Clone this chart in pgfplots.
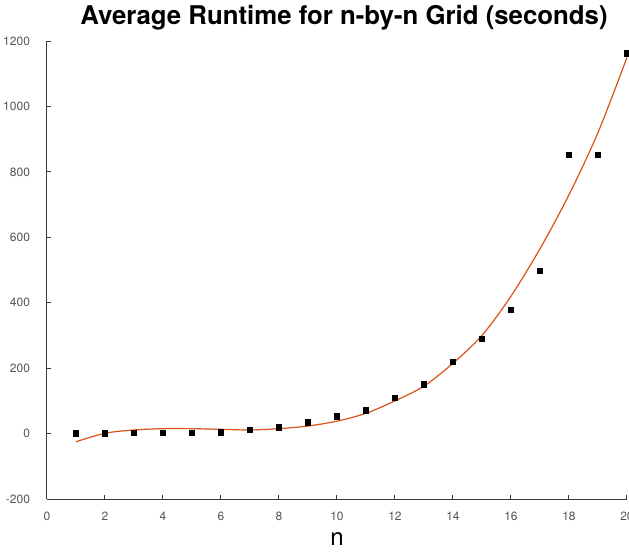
\documentclass[border=0pt]{standalone}
\usepackage{fontspec}
\setmainfont{TeX Gyre Heros}
\usepackage{pgfplots}
\pgfplotsset{compat=1.18}
\definecolor{fitred}{rgb}{0.85,0.325,0.098}
\definecolor{axgray}{HTML}{3A3A3A}
\definecolor{lblgray}{HTML}{555555}

\begin{document}
\begin{tikzpicture}
\begin{axis}[
    at={(0,0)}, anchor=south west,
    width=290pt, height=229pt, scale only axis,
    xmin=0, xmax=20, ymin=-200, ymax=1200,
    xtick={0,2,...,20}, ytick={-200,0,...,1200},
    axis lines=left, axis line style={-, axgray, line width=0.5pt},
    tick align=inside, major tick length=2pt,
    tick style={axgray, line width=0.5pt},
    /pgf/number format/assume math mode=true,
    /pgf/number format/1000 sep={},
    tick label style={font=\fontsize{6}{7}\selectfont, lblgray},
    xticklabel style={yshift=-3pt},
    yticklabel style={xshift=-5pt},
    xlabel={n}, xlabel style={font=\fontsize{12}{14}\selectfont, yshift=1pt},
    title={\bfseries Average Runtime for n-by-n Grid (seconds)},
    title style={font=\fontsize{12.9}{15}\selectfont, yshift=-4pt, xshift=3.5pt},
    clip=false,
]
% fitted curve
\addplot[color=fitred, line width=0.6pt, smooth] coordinates {
(1,-25)(2,1)(3,11)(4,15)(5,15)(6,13)(7,11)(8,15)(9,23)(10,38)
(11,62)(12,100)(13,145)(14,215)(15,300)(16,420)(17,565)(18,730)(19,920)(20,1150)};
% measured averages
\addplot[only marks, mark=square*, mark size=1.4pt, black] coordinates {
(1,1)(2,1)(3,2)(4,2)(5,2)(6,4)(7,11)(8,19)(9,35)(10,53)
(11,71)(12,109)(13,150)(14,219)(15,289)(16,378)(17,497)(18,852)(19,852)(20,1163)};
\end{axis}
\pgfresetboundingbox
\path (-23.5pt,-27.5pt) rectangle (291pt,249.5pt);
\end{tikzpicture}
\end{document}
